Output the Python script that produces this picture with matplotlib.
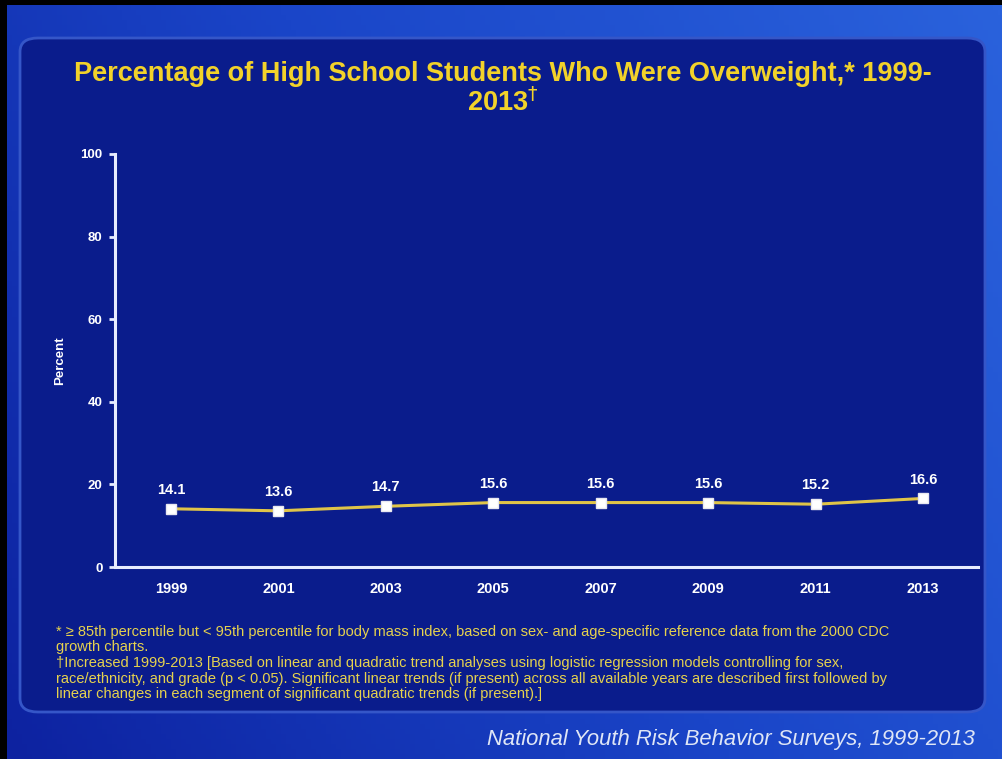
import numpy as np
import matplotlib
matplotlib.use("Agg")
import matplotlib.pyplot as plt
from matplotlib.patches import FancyBboxPatch

# data
years = ["1999", "2001", "2003", "2005", "2007", "2009", "2011", "2013"]
percent = [14.1, 13.6, 14.7, 15.6, 15.6, 15.6, 15.2, 16.6]
y_ticks = [0, 20, 40, 60, 80, 100]

title_text = "Percentage of High School Students Who Were Overweight,* 1999-\n2013$^{\\dagger}$"
footnote_lines = [
    "* \u2265 85th percentile but < 95th percentile for body mass index, based on sex- and age-specific reference data from the 2000 CDC",
    "growth charts.",
    "\u2020Increased 1999-2013 [Based on linear and quadratic trend analyses using logistic regression models controlling for sex,",
    "race/ethnicity, and grade (p < 0.05). Significant linear trends (if present) across all available years are described first followed by",
    "linear changes in each segment of significant quadratic trends (if present).]",
]
source_text = "National Youth Risk Behavior Surveys, 1999-2013"

plt.rcParams['font.family'] = ['Liberation Sans', 'DejaVu Sans']

W, H = 1003, 759
fig = plt.figure(figsize=(W / 100, H / 100), dpi=100)
fig.patch.set_facecolor("#000000")

# slide background with a soft gradient
bg = fig.add_axes([7 / W, 0, 1 - 7 / W, 1 - 5 / H])
bg.set_axis_off()
xx, yy = np.meshgrid(np.linspace(0, 1, 200), np.linspace(0, 1, 150))
grad = 0.55 * xx + 0.25 * (1 - yy)
cmap = matplotlib.colors.LinearSegmentedColormap.from_list("slide", ["#0d22a0", "#1a45c8", "#2a62dc"])
bg.imshow(grad, cmap=cmap, aspect="auto", extent=[0, 1, 0, 1], origin="upper")
bg.set_xlim(0, 1)
bg.set_ylim(0, 1)

# dark inner panel (drawn inside the background axes so the plot sits on top)
panel = FancyBboxPatch((20 / W, 1 - 712 / H), (985 - 20) / W, (712 - 38) / H,
                       boxstyle="round,pad=0,rounding_size=0.018",
                       transform=fig.transFigure, facecolor="#0a1c8c",
                       edgecolor="#3556c8", linewidth=2.0, zorder=2)
bg.add_patch(panel)

# plot area
ax = fig.add_axes([115 / W, 1 - 567 / H, (978 - 115) / W, (567 - 154) / H])
ax.set_zorder(3)
ax.set_facecolor("none")
x = np.arange(len(years))
ax.plot(x, percent, color="#e0c448", lw=2.2, zorder=3)
ax.plot(x, percent, color="white", ls="none", marker="s", ms=6.5,
        markeredgecolor="#e8e8f0", zorder=4)
for xi, v in zip(x, percent):
    ax.annotate(f"{v:.1f}", (xi, v), xytext=(0, 8.5), textcoords="offset points",
                ha="center", va="bottom", color="white", fontsize=10.5, fontweight="bold")

ax.set_xlim(-0.52, 7.51)
ax.set_ylim(0, 100)
ax.set_xticks(x)
ax.set_xticklabels(years)
ax.set_yticks(y_ticks)
for s in ["top", "right"]:
    ax.spines[s].set_visible(False)
for s in ["left", "bottom"]:
    ax.spines[s].set_color("#e8ecff")
    ax.spines[s].set_linewidth(2.2)
ax.tick_params(axis="y", colors="#e8ecff", length=4, width=2, labelsize=9.5, pad=5)
ax.tick_params(axis="x", length=0, colors="white", labelsize=10.5, pad=11)
for lab in ax.get_xticklabels() + ax.get_yticklabels():
    lab.set_fontweight("bold")
    lab.set_color("white")
ax.set_ylabel("Percent", color="white", fontsize=9.5, fontweight="bold", labelpad=10)

fig.text(503 / W, 1 - 89 / H, title_text, ha="center", va="center",
         color="#f2d22a", fontsize=19.5, fontweight="bold", linespacing=1.1,
         zorder=4)

for i, line in enumerate(footnote_lines):
    fig.text(56 / W, 1 - (632 + i * 15.5) / H, line, ha="left", va="center",
             color="#e6d24e", fontsize=10.5, zorder=4)

fig.text(975 / W, 1 - 740 / H, source_text, ha="right", va="center",
         color="#dfe6f6", fontsize=15.8, style="italic", zorder=4)

fig.savefig("out.png", dpi=100, facecolor=fig.get_facecolor())
